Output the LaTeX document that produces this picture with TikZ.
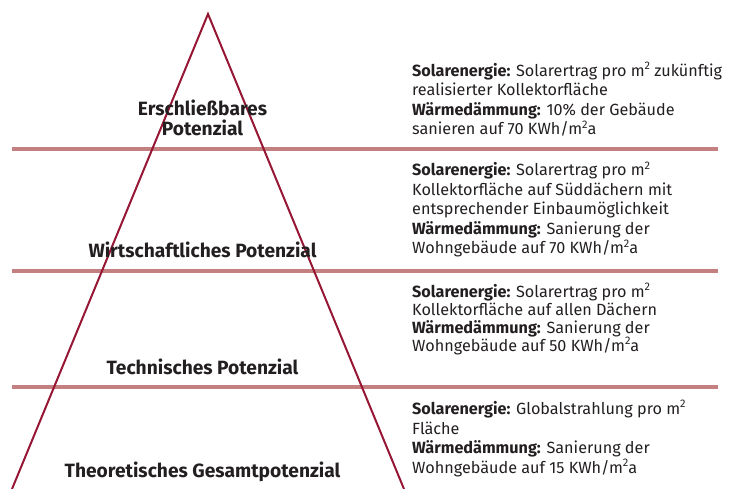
\documentclass[tikz,border=0pt]{standalone}
\usepackage{fontspec}
\setmainfont{Fira Sans}
\definecolor{pyrred}{RGB}{150,22,52}
\definecolor{bandrose}{RGB}{196,128,128}
\definecolor{txtgray}{RGB}{35,31,32}
\newcommand{\sqii}{\raisebox{0.42em}{\fontsize{11}{10}\selectfont 2}}
\tikzset{potpyr/.style={x=1pt,y=-1pt,text=txtgray},
  levellabel/.style={anchor=base,inner sep=0pt,align=center,font=\fontsize{19.2}{20}\selectfont\bfseries},
  levelinfo/.style={anchor=base west,inner sep=0pt,align=left,font=\fontsize{16.2}{19.5}\selectfont}}

\begin{document}
\begin{tikzpicture}[potpyr]
    \useasboundingbox (0,0) rectangle (731,489);
    \foreach \y in {149,271,387} \draw[bandrose,line width=3.2pt] (12,\y) -- (718,\y);
    \draw[pyrred,line width=2pt,line join=miter] (12,489) -- (208,14) -- (404,489);
    % multi-line nodes sit on the baseline of their last line
    \node[levellabel] (erschl) at (202.5,136) {Erschließbares\\Potenzial};
    \node[levellabel] (wirtsch) at (202.5,258) {Wirtschaftliches Potenzial};
    \node[levellabel] (techn) at (202.5,374) {Technisches Potenzial};
    \node[levellabel] (theor) at (202.5,477) {Theoretisches Gesamtpotenzial};
    \node[levelinfo] (info1) at (412,135) {\textbf{Solarenergie:} Solarertrag pro m\sqii{} zukünftig\\
      realisierter Kollektorfläche\\ \textbf{Wärmedämmung:} 10\% der Gebäude\\ sanieren auf 70 KWh/m\sqii a};
    \node[levelinfo] (info2) at (412,254) {\textbf{Solarenergie:} Solarertrag pro m\sqii\\
      Kollektorfläche auf Süddächern mit\\ entsprechender Einbaumöglichkeit\\
      \textbf{Wärmedämmung:} Sanierung der\\ Wohngebäude auf 70 KWh/m\sqii a};
    \node[levelinfo,font=\fontsize{16.2}{18}\selectfont] (info3) at (412,351) {\textbf{Solarenergie:} Solarertrag pro m\sqii\\
      Kollektorfläche auf allen Dächern\\ \textbf{Wärmedämmung:} Sanierung der\\ Wohngebäude auf 50 KWh/m\sqii a};
    \node[levelinfo] (info4) at (412,473) {\textbf{Solarenergie:} Globalstrahlung pro m\sqii\\
      Fläche\\ \textbf{Wärmedämmung:} Sanierung der\\ Wohngebäude auf 15 KWh/m\sqii a};
\end{tikzpicture}
\end{document}
